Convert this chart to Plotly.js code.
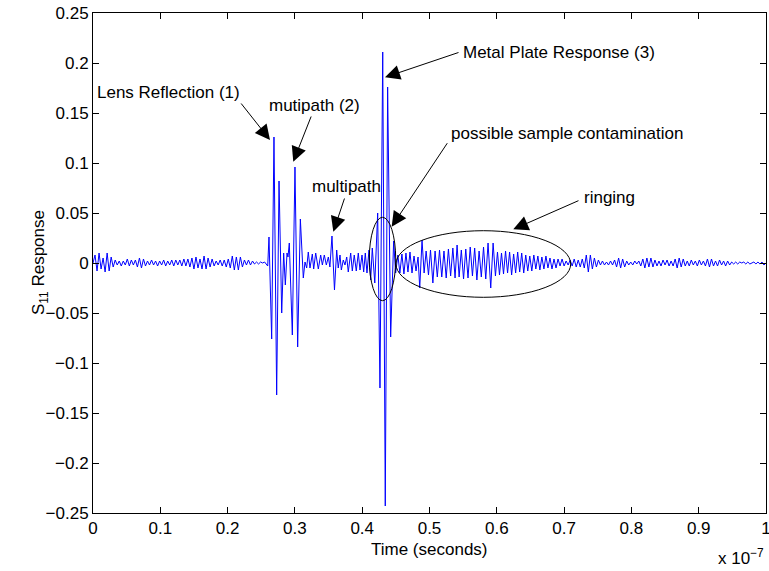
<!DOCTYPE html>
<html>
<head>
<meta charset="utf-8">
<script src="https://cdn.plot.ly/plotly-3.0.1.min.js"></script>
<style>html,body{margin:0;padding:0;background:#fff}#chart{width:769px;height:571px}</style>
</head>
<body>
<div id="chart"></div>
<script>
// Time in units of 1e-7 s, S11 response values
const timeLeadIn = [0,.003,.006,.009,.012,.015,.018,.021,.024,.027,.030,.033,.036,.039,.042,.045,.048,.051,.054,.057,.060,.063,.066,.069,.072,.075,.078,.081,.084,.087,.090,.093,.096,.099,.102,.105,.108,.111,.114,.117,.120,.123,.126,.129,.132,.135,.138,.141,.144,.147,.150,.153,.156,.159,.162,.165,.168,.171,.174,.177,.180,.183,.186,.189,.192,.195,.198,.201,.204,.207,.210,.213,.216,.219,.222,.225,.228,.231,.234,.237,.240,.243,.246,.249,.252,.255,.2596];
const s11LeadIn = [0,.008,-.008,.010,-.006,.005,-.009,.010,-.008,.006,-.004,.003,-.002,.002,-.003,.002,-.002,.004,-.003,.003,-.002,.003,-.004,.005,-.005,.004,-.003,.002,-.002,.003,-.002,.002,-.003,.002,-.002,.003,-.003,.002,-.002,.003,-.003,.003,-.002,.003,-.003,.004,-.003,.004,-.004,.005,-.006,.006,-.005,.004,-.006,.007,-.006,.005,-.004,.004,-.003,.002,-.002,.003,-.003,.003,-.004,.004,-.005,.007,-.007,.006,-.007,.006,-.004,.003,-.002,.003,-.002,.002,-.001,.001,-.001,.001,0,.001,-.003];

const timeLens = [.2615,.2655,.2689,.2729,.2764,.2804,.2833,.2858,.2883,.2897,.2917,.2962,.3001,.3041,.3081,.3125,.3150,.3175,.3199,.3224,.3259,.3279,.3309,.3348,.3383,.3408,.3437,.3467,.3497,.3520,.3551,.3588,.3621,.3644,.3670,.3690,.3719,.3744,.3770,.3793,.3829,.3853,.3882,.3912,.3942,.3967,.3997,.4022,.4046,.4071,.4101,.4126,.4150,.4187];
const s11Lens = [.026,-.076,.126,-.132,.082,-.050,.010,-.022,.010,.006,.020,-.072,.096,-.084,.044,-.015,.001,-.005,.011,-.005,.009,-.006,.010,-.006,.008,-.002,.008,-.002,.006,-.004,.027,-.027,.013,-.005,.008,-.007,.003,-.002,.006,-.009,.010,-.008,.008,-.008,.010,-.007,.008,-.009,.010,-.010,.013,-.017,.015,-.020];

const timePlate = [.4230,.4264,.4305,.4343,.4378,.4423,.4467,.4497];
const s11Plate = [.050,-.125,.211,-.243,.176,-.074,.022,-.010];

const timeRinging = [.453,.456,.459,.462,.465,.468,.471,.474,.477,.480,.483,.4855,.4889,.4920,.4950,.4985,.5015,.5050,.5083,.5116,.5149,.5182,.5215,.5248,.5281,.5314,.5347,.5380,.5410,.5440,.5473,.5506,.5539,.5572,.5605,.5638,.5671,.5704,.5737,.5770,.5803,.5836,.5870,.5910,.5945,.5980,.6010,.6040,.6070,.6100,.6130,.6160,.6190,.6220,.6250,.6280,.6310,.6340,.6370,.6400,.6430,.6460,.6490,.6520,.6550,.6580,.6610,.6640,.6670,.6700,.6730,.6760,.6790,.6820,.6850,.6880,.6910,.6940,.6970,.7000,.7030,.7060];
const s11Ringing = [.008,-.010,.009,-.011,.010,-.009,.011,-.010,.007,-.008,.006,-.025,.023,-.010,.012,-.012,.013,-.020,.012,-.014,.013,-.014,.012,-.015,.014,-.013,.015,-.015,.018,-.014,.013,-.016,.014,-.015,.016,-.013,.015,-.017,.012,-.014,.016,-.016,.020,-.025,.020,-.013,.011,-.012,.010,-.011,.012,-.010,.011,-.012,.009,-.010,.011,-.009,.010,-.010,.008,-.008,.007,-.008,.008,-.006,.007,-.007,.006,-.006,.007,-.005,.005,-.006,.004,-.005,.004,-.003,.004,-.003,.002,-.002];

const timeTail = [.709,.712,.715,.718,.721,.724,.727,.730,.733,.736,.739,.742,.745,.748,.751,.754,.757,.760,.763,.766,.769,.772,.775,.778,.781,.784,.787,.790,.793,.796,.799,.802,.805,.808,.811,.814,.817,.820,.823,.826,.829,.832,.835,.838,.841,.844,.847,.850,.853,.856,.859,.862,.865,.868,.871,.874,.877,.880,.883,.886,.889,.892,.895,.898,.901,.904,.907,.910,.913,.916,.919,.922,.925,.928,.931,.934,.937,.940,.943,.946,.949,.952,.955,.958,.961,.964,.967,.970,.973,.976,.979,.982,.985,.988,.991,.994,.997,1.000];
const s11Tail = [.003,-.003,.004,-.004,.003,-.004,.004,-.005,.008,-.009,.008,-.006,.005,-.004,.003,-.002,.002,-.002,.001,-.002,.002,-.002,.003,-.004,.005,-.005,.004,-.004,.002,-.002,.001,-.002,.002,-.001,.002,-.003,.004,-.005,.005,-.004,.005,-.004,.003,-.003,.002,-.003,.003,-.002,.003,-.003,.002,-.003,.004,-.005,.005,-.004,.004,-.003,.002,-.003,.003,-.002,.002,-.003,.003,-.002,.002,-.003,.004,-.004,.004,-.003,.002,-.003,.003,-.002,.002,-.003,.002,-.002,.001,-.001,.001,-.001,.001,0,.001,-.001,.001,-.001,0,.001,-.001,.001,-.001,.001,-.002,0];

const xTickVals = [0,0.1,0.2,0.3,0.4,0.5,0.6,0.7,0.8,0.9,1];
const xTickText = ['0','0.1','0.2','0.3','0.4','0.5','0.6','0.7','0.8','0.9','1'];
const yTickVals = [-0.25,-0.2,-0.15,-0.1,-0.05,0,0.05,0.1,0.15,0.2,0.25];
const yTickText = ['\u22120.25','\u22120.2','\u22120.15','\u22120.1','\u22120.05','0','0.05','0.1','0.15','0.2','0.25'];

// Callout labels: text, label position, arrow tail, arrow tip (data units)
const calloutText = ['Lens Reflection (1)','mutipath (2)','multipath','Metal Plate Response (3)','possible sample contamination','ringing'];
const labelX = [0.003,0.2585,0.3224,0.5468,0.529,0.7266];
const labelY = [0.171,0.158,0.077,0.211,0.130,0.066];
const tailX = [0.2184,0.325,0.3744,0.5453,0.5279,0.7236];
const tailY = [0.161,0.148,0.066,0.211,0.1213,0.063];
const tipX = [0.263,0.2976,0.3571,0.4339,0.4438,0.6245];
const tipY = [0.123,0.1013,0.0313,0.1857,0.0363,0.0337];

// Ellipses marking regions: [x0, x1, y0, y1]
const ellipseSample = [0.4105,0.4498,-0.0377,0.0457];
const ellipseRinging = [0.4502,0.7098,-0.0343,0.0323];

const t = [].concat(timeLeadIn,timeLens,timePlate,timeRinging,timeTail);
const s = [].concat(s11LeadIn,s11Lens,s11Plate,s11Ringing,s11Tail);

const FONT = 'Liberation Sans, Arial, Helvetica, sans-serif';
const FS = 17;
const annotations = [];
for (let i=0;i<calloutText.length;i++){
  annotations.push({x:labelX[i],y:labelY[i],xref:'x',yref:'y',text:calloutText[i],showarrow:false,xanchor:'left',yanchor:'middle',font:{family:FONT,size:FS,color:'#000'}});
  annotations.push({x:tipX[i],y:tipY[i],xref:'x',yref:'y',ax:tailX[i],ay:tailY[i],axref:'x',ayref:'y',text:'',showarrow:true,arrowhead:2,arrowsize:3,arrowwidth:1,arrowcolor:'#000',standoff:0,startstandoff:0});
}
// exponent label and axis titles
annotations.push({xref:'paper',yref:'paper',x:1,y:0,yshift:-44,xanchor:'right',yanchor:'middle',showarrow:false,text:'x 10<sup>\u22127</sup>',font:{family:FONT,size:FS,color:'#000'}});
annotations.push({xref:'paper',yref:'paper',x:0.5,y:0,yshift:-36,xanchor:'center',yanchor:'middle',showarrow:false,text:'Time (seconds)',font:{family:FONT,size:FS,color:'#000'}});
annotations.push({xref:'paper',yref:'paper',x:0,y:0.5,xshift:-53,xanchor:'center',yanchor:'middle',textangle:-90,showarrow:false,text:'S<sub>11</sub> Response',font:{family:FONT,size:FS,color:'#000'}});

const shapes = [ellipseSample,ellipseRinging].map(e=>({type:'circle',xref:'x',yref:'y',x0:e[0],x1:e[1],y0:e[2],y1:e[3],line:{color:'#000',width:1}}));

Plotly.newPlot('chart',[{x:t,y:s,type:'scatter',mode:'lines',line:{color:'#0000ff',width:1},hoverinfo:'none'}],{
  width:769,height:571,
  margin:{l:93,r:3,t:13,b:58},
  paper_bgcolor:'#fff',plot_bgcolor:'#fff',
  showlegend:false,
  font:{family:FONT,size:FS,color:'#000'},
  xaxis:{range:[0,1],tickvals:xTickVals,ticktext:xTickText,ticks:'inside',ticklen:6,tickcolor:'#000',mirror:'ticks',showline:true,linecolor:'#000',linewidth:1,showgrid:false,zeroline:false,tickfont:{size:FS},ticklabeloverflow:'allow'},
  yaxis:{range:[-0.25,0.25],tickvals:yTickVals,ticktext:yTickText,ticks:'inside',ticklen:6,tickcolor:'#000',mirror:'ticks',showline:true,linecolor:'#000',linewidth:1,showgrid:false,zeroline:false,tickfont:{size:FS},ticklabeloverflow:'allow'},
  annotations:annotations,
  shapes:shapes
},{staticPlot:true});
</script>
</body>
</html>
